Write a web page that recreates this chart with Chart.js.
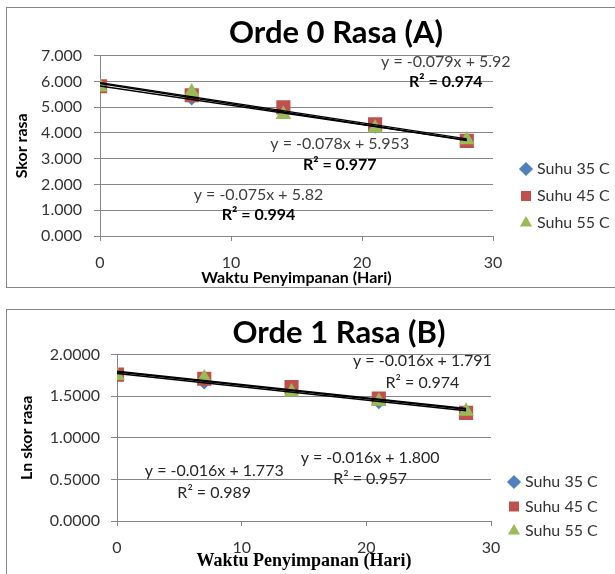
<!DOCTYPE html>
<html>
<head>
<meta charset="utf-8">
<script src="https://cdn.jsdelivr.net/npm/chart.js@4.4.1/dist/chart.umd.min.js"></script>
<style>
  html, body { margin: 0; padding: 0; background: #fff; overflow: hidden; width: 615px; height: 574px; }
  .box { position: absolute; border: 1px solid #868686; background: #fff; }
  #boxA { left: 6px; top: 7px; width: 658px; height: 279px; }
  #boxB { left: 6px; top: 309px; width: 664px; height: 270px; }
</style>
</head>
<body>
<div class="box" id="boxA"><canvas id="chartA"></canvas></div>
<div class="box" id="boxB"><canvas id="chartB"></canvas></div>
<script>
// storage days and series names
const days = [0, 7, 14, 21, 28];
const seriesNames = ['Suhu 35 C', 'Suhu 45 C', 'Suhu 55 C'];

// chart A: skor rasa
const skor35 = [5.80, 5.32, 4.78, 4.22, 3.72];
const skor45 = [5.81, 5.46, 4.99, 4.33, 3.69];
const skor55 = [5.78, 5.59, 4.71, 4.19, 3.73];

// chart B: ln skor rasa
const lnSkor35 = [1.76, 1.66, 1.57, 1.42, 1.31];
const lnSkor45 = [1.76, 1.71, 1.61, 1.47, 1.30];
const lnSkor55 = [1.75, 1.72, 1.55, 1.44, 1.32];

// trendlines as printed on the charts (35, 45, 55)
const slopeA = [-0.075, -0.078, -0.079];
const interceptA = [5.82, 5.953, 5.92];
const eqTextA = ['y = -0.075x + 5.82', 'y = -0.078x + 5.953', 'y = -0.079x + 5.92'];
const r2TextA = ['R\u00b2 = 0.994', 'R\u00b2 = 0.977', 'R\u00b2 = 0.974'];

const slopeB = [-0.016, -0.016, -0.016];
const interceptB = [1.773, 1.800, 1.791];
const eqTextB = ['y = -0.016x + 1.773', 'y = -0.016x + 1.800', 'y = -0.016x + 1.791'];
const r2TextB = ['R\u00b2 = 0.989', 'R\u00b2 = 0.957', 'R\u00b2 = 0.974'];

// axis ticks
const xTicks = [0, 10, 20, 30];
const yTicksA = [0, 1, 2, 3, 4, 5, 6, 7];
const yTicksB = [0, 0.5, 1, 1.5, 2];

const colors = ['#4F81BD', '#C0504D', '#9BBB59'];
const styles = ['rectRot', 'rect', 'triangle'];
const radii = [6.5, 10, 9];
const gridColor = '#868686';

// legend: fixed width and placement
const legendPlace = {
  id: 'legendPlace',
  beforeInit(chart, args, opts) {
    const lg = chart.legend;
    const fit = lg.fit;
    lg.fit = function () {
      fit.call(this);
      this.width = opts.width;
    };
  },
  afterLayout(chart, args, opts) {
    const lg = chart.legend;
    const dx = opts.left - lg.left;
    const dy = opts.top - lg.top;
    lg.left += dx; lg.right += dx;
    lg.top += dy; lg.bottom += dy;
  }
};

// trendline equations written on the plot
const eqLabels = {
  id: 'eqLabels',
  afterDatasetsDraw(chart, args, opts) {
    const {ctx, scales: {x, y}} = chart;
    ctx.save();
    ctx.textAlign = 'center';
    ctx.textBaseline = 'middle';
    opts.eq.forEach((txt, i) => {
      const px = x.getPixelForValue(opts.spots[i][0]);
      const py = y.getPixelForValue(opts.spots[i][1]);
      ctx.font = opts.eqFont;
      ctx.fillStyle = opts.eqColor;
      ctx.fillText(txt, px, py);
      ctx.font = opts.r2Font;
      ctx.fillStyle = opts.r2Color;
      ctx.fillText(opts.r2[i], px, py + opts.gap);
    });
    ctx.restore();
  }
};

function buildDatasets(series, slopes, intercepts) {
  const sets = series.map((vals, i) => ({
    label: seriesNames[i],
    data: days.map((d, j) => ({x: d, y: vals[j]})),
    backgroundColor: colors[i],
    borderColor: colors[i],
    borderWidth: 0,
    pointStyle: styles[i],
    pointRadius: radii[i],
    pointHoverRadius: radii[i],
    showLine: false,
    order: 3 - i
  }));
  slopes.forEach((m, i) => {
    const x0 = days[0], x1 = days[days.length - 1];
    sets.push({
      label: 'trend',
      data: [{x: x0, y: m * x0 + intercepts[i]}, {x: x1, y: m * x1 + intercepts[i]}],
      borderColor: '#000',
      borderWidth: 1.4,
      pointRadius: 0,
      showLine: true,
      order: 0
    });
  });
  return sets;
}

function makeOptions(cfg) {
  return {
    responsive: true,
    maintainAspectRatio: false,
    animation: false,
    layout: {padding: 0},
    plugins: {
      title: {
        display: true,
        text: cfg.title,
        color: '#000',
        font: {family: 'Lato', size: 31, weight: 'bold', lineHeight: 1.2},
        padding: cfg.titlePad
      },
      legend: {
        position: 'right',
        align: 'start',
        labels: {
          usePointStyle: true,
          boxWidth: 6,
          boxHeight: 10,
          padding: cfg.legendGap,
          color: '#333',
          textAlign: 'left',
          font: {family: 'Lato', size: 16},
          filter: item => item.datasetIndex < 3,
          sort: (a, b) => a.datasetIndex - b.datasetIndex
        }
      },
      tooltip: {enabled: false},
      legendPlace: cfg.legendPlace,
      eqLabels: cfg.eqLabels
    },
    scales: {
      x: {
        type: 'linear',
        min: 0,
        max: 30,
        afterBuildTicks: s => { s.ticks = xTicks.map(v => ({value: v})); },
        afterFit: s => { s.height = cfg.xHeight; },
        grid: {drawOnChartArea: false, color: gridColor, tickLength: 5},
        border: {color: gridColor},
        ticks: {color: '#333', padding: 12, font: {family: 'Lato', size: 16}},
        title: {
          display: true,
          text: 'Waktu Penyimpanan (Hari)',
          color: '#000',
          font: cfg.xTitleFont,
          padding: cfg.xTitlePad
        }
      },
      y: {
        type: 'linear',
        min: cfg.yTicks[0],
        max: cfg.yTicks[cfg.yTicks.length - 1],
        afterBuildTicks: s => { s.ticks = cfg.yTicks.map(v => ({value: v})); },
        afterFit: s => { s.width = cfg.yWidth; },
        grid: {color: gridColor, tickLength: 6},
        border: {color: gridColor},
        ticks: {
          color: '#333',
          padding: cfg.yTickPad,
          font: {family: 'Lato', size: 16},
          callback: v => v.toFixed(cfg.decimals)
        },
        title: {
          display: true,
          text: cfg.yTitle,
          color: '#000',
          font: {family: 'Lato', size: 16, weight: 'bold', lineHeight: 1.2},
          padding: {top: cfg.yTitlePad, bottom: 0}
        }
      }
    }
  };
}

const chartA = new Chart(document.getElementById('chartA'), {
  type: 'scatter',
  data: {datasets: buildDatasets([skor35, skor45, skor55], slopeA, interceptA)},
  options: makeOptions({
    title: 'Orde 0 Rasa (A)',
    titlePad: {top: 6.5, bottom: 3.9},
    legendGap: 11,
    legendPlace: {width: 172, left: 505, top: 142},
    xHeight: 51,
    xTitleFont: {family: 'Lato', size: 16, weight: 'bold', lineHeight: 1.2},
    xTitlePad: {top: 0, bottom: 0},
    yTicks: yTicksA,
    yWidth: 93,
    yTickPad: 12,
    decimals: 3,
    yTitle: 'Skor rasa',
    yTitlePad: 5,
    eqLabels: {
      eq: eqTextA,
      r2: r2TextA,
      spots: [[12.1, 1.61], [18.3, 3.56], [26.4, 6.77]],
      gap: 20.5,
      eqFont: '16px Lato',
      eqColor: '#404040',
      r2Font: 'bold 16px Lato',
      r2Color: '#000'
    }
  }),
  plugins: [legendPlace, eqLabels]
});

const chartB = new Chart(document.getElementById('chartB'), {
  type: 'scatter',
  data: {datasets: buildDatasets([lnSkor35, lnSkor45, lnSkor55], slopeB, interceptB)},
  options: makeOptions({
    title: 'Orde 1 Rasa (B)',
    titlePad: {top: 4.7, bottom: 2.7},
    legendGap: 8.5,
    legendPlace: {width: 180, left: 495.5, top: 155.5},
    xHeight: 59,
    xTitleFont: {family: 'Liberation Serif', size: 18, weight: 'bold', lineHeight: 1.2},
    xTitlePad: {top: 0, bottom: 7.7},
    yTicks: yTicksB,
    yWidth: 110,
    yTickPad: 11,
    decimals: 4,
    yTitle: 'Ln skor rasa',
    yTitlePad: 10,
    eqLabels: {
      eq: eqTextB,
      r2: r2TextB,
      spots: [[7.8, 0.598], [20.3, 0.763], [24.5, 1.923]],
      gap: 21.5,
      eqFont: '16px Lato',
      eqColor: '#262626',
      r2Font: '16px Lato',
      r2Color: '#262626'
    }
  }),
  plugins: [legendPlace, eqLabels]
});
</script>
</body>
</html>
